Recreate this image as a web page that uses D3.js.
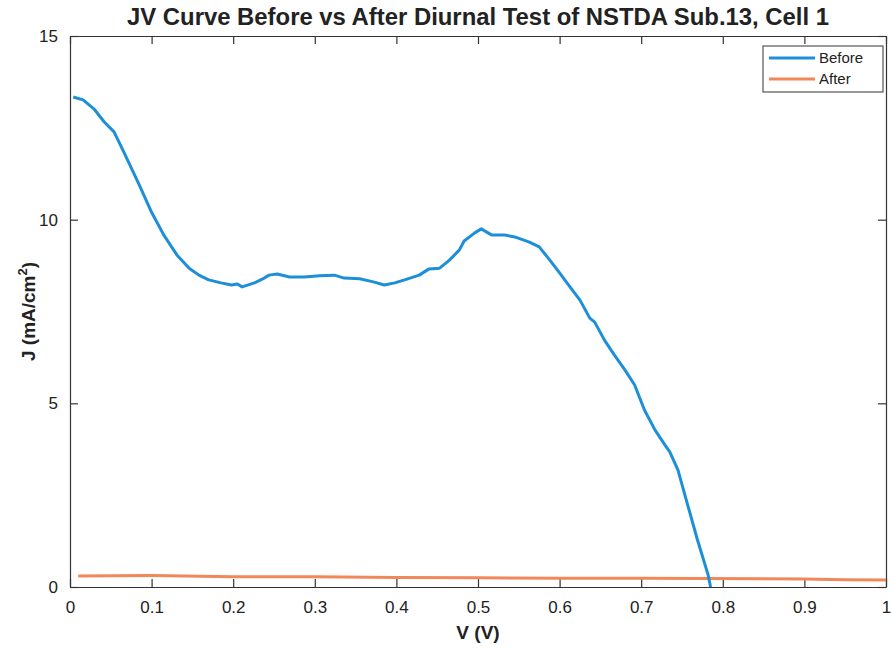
<!DOCTYPE html>
<html>
<head>
<meta charset="utf-8">
<script src="https://cdn.jsdelivr.net/npm/d3@7"></script>
<style>
  body { margin: 0; background: #fff; }
  svg text { font-family: "Liberation Sans", Arial, sans-serif; fill: #222; }
</style>
</head>
<body>
<div id="chart"></div>
<script>
const width = 892;
const height = 649;

// Before diurnal test (V in volts, J in mA/cm2)
const beforeV = [0.004, 0.016, 0.03, 0.042, 0.054, 0.066, 0.085, 0.1, 0.115, 0.131, 0.146, 0.158, 0.17,
  0.185, 0.198, 0.205, 0.211, 0.226, 0.238, 0.244, 0.254, 0.269, 0.287, 0.306, 0.324, 0.336, 0.355,
  0.373, 0.385, 0.398, 0.41, 0.428, 0.44, 0.453, 0.465, 0.477, 0.483, 0.496, 0.504, 0.517, 0.533,
  0.545, 0.563, 0.575, 0.588, 0.6, 0.612, 0.625, 0.637, 0.643, 0.655, 0.667, 0.68, 0.692, 0.704,
  0.717, 0.729, 0.735, 0.745, 0.757, 0.769, 0.782, 0.785];
const beforeJ = [13.34, 13.26, 13.0, 12.66, 12.39, 11.84, 10.94, 10.2, 9.58, 9.04, 8.68, 8.49, 8.36,
  8.28, 8.22, 8.25, 8.17, 8.28, 8.41, 8.49, 8.52, 8.44, 8.44, 8.47, 8.49, 8.41, 8.39,
  8.30, 8.22, 8.28, 8.36, 8.49, 8.66, 8.68, 8.90, 9.17, 9.42, 9.64, 9.75, 9.58, 9.58,
  9.53, 9.39, 9.26, 8.90, 8.55, 8.19, 7.81, 7.32, 7.21, 6.72, 6.32, 5.91, 5.50, 4.82,
  4.27, 3.87, 3.68, 3.19, 2.23, 1.28, 0.33, 0.0];

// After diurnal test
const afterV = [0.01, 0.1, 0.2, 0.3, 0.4, 0.5, 0.6, 0.7, 0.78, 0.9, 0.95, 1.0];
const afterJ = [0.30, 0.31, 0.28, 0.28, 0.26, 0.25, 0.24, 0.24, 0.23, 0.22, 0.20, 0.19];

const xTicks = [0, 0.1, 0.2, 0.3, 0.4, 0.5, 0.6, 0.7, 0.8, 0.9, 1];
const yTicks = [0, 5, 10, 15];

const seriesNames = ["Before", "After"];
const seriesColors = ["#1d8fd8", "#f2875a"];

const margin = {top: 36, right: 6, bottom: 62, left: 70};
const innerW = width - margin.left - margin.right;
const innerH = height - margin.top - margin.bottom;

const svg = d3.select("#chart").append("svg")
    .attr("width", width)
    .attr("height", height);

const g = svg.append("g")
    .attr("transform", `translate(${margin.left},${margin.top})`);

const x = d3.scaleLinear().domain([0, 1]).range([0, innerW]);
const y = d3.scaleLinear().domain([0, 15]).range([innerH, 0]);

// axes with inward ticks, MATLAB style box
const fmt = d => String(d);
const xAxis = g.append("g")
    .attr("transform", `translate(0,${innerH})`)
    .call(d3.axisBottom(x).tickValues(xTicks).tickFormat(fmt).tickSizeInner(-8).tickSizeOuter(0).tickPadding(14));
const xTop = g.append("g")
    .call(d3.axisTop(x).tickValues(xTicks).tickFormat("").tickSizeInner(-8).tickSizeOuter(0));
const yAxis = g.append("g")
    .call(d3.axisLeft(y).tickValues(yTicks).tickFormat(fmt).tickSizeInner(-8).tickSizeOuter(0).tickPadding(12));
const yRight = g.append("g")
    .attr("transform", `translate(${innerW},0)`)
    .call(d3.axisRight(y).tickValues(yTicks).tickFormat("").tickSizeInner(-8).tickSizeOuter(0));

[xAxis, xTop, yAxis, yRight].forEach(a => {
    a.select(".domain").attr("stroke", "#333").attr("stroke-width", 1.2);
    a.selectAll(".tick line").attr("stroke", "#333").attr("stroke-width", 1.2);
    a.selectAll("text").attr("font-size", 17).attr("fill", "#222");
});

// lines
const line = d3.line()
    .x(d => x(d[0]))
    .y(d => y(d[1]));

const afterData = afterV.map((v, i) => [v, afterJ[i]]);
const beforeData = beforeV.map((v, i) => [v, beforeJ[i]]);

g.append("path")
    .datum(afterData)
    .attr("fill", "none")
    .attr("stroke", seriesColors[1])
    .attr("stroke-width", 3)
    .attr("d", line);

g.append("path")
    .datum(beforeData)
    .attr("fill", "none")
    .attr("stroke", seriesColors[0])
    .attr("stroke-width", 3)
    .attr("stroke-linejoin", "round")
    .attr("d", line);

// title and axis labels
svg.append("text")
    .attr("x", 478)
    .attr("y", 25)
    .attr("text-anchor", "middle")
    .attr("font-size", 23)
    .attr("font-weight", "bold")
    .attr("textLength", 702)
    .attr("lengthAdjust", "spacingAndGlyphs")
    .text("JV Curve Before vs After Diurnal Test of NSTDA Sub.13, Cell 1");

svg.append("text")
    .attr("x", margin.left + innerW / 2)
    .attr("y", 639)
    .attr("text-anchor", "middle")
    .attr("font-size", 19)
    .attr("font-weight", "bold")
    .text("V (V)");

const yl = svg.append("text")
    .attr("transform", `translate(35,${margin.top + innerH / 2}) rotate(-90)`)
    .attr("text-anchor", "middle")
    .attr("font-size", 19)
    .attr("font-weight", "bold");
yl.append("tspan").text("J (mA/cm");
yl.append("tspan").attr("dy", -8).attr("font-size", 13).text("2");
yl.append("tspan").attr("dy", 8).text(")");

// legend
const lg = svg.append("g").attr("transform", "translate(763,46)");
lg.append("rect")
    .attr("width", 120)
    .attr("height", 46)
    .attr("fill", "#fff")
    .attr("stroke", "#333")
    .attr("stroke-width", 1);
seriesNames.forEach((name, i) => {
    const yy = 12 + i * 21;
    lg.append("line")
        .attr("x1", 6).attr("x2", 52)
        .attr("y1", yy).attr("y2", yy)
        .attr("stroke", seriesColors[i])
        .attr("stroke-width", 3);
    lg.append("text")
        .attr("x", 56)
        .attr("y", yy + 5)
        .attr("font-size", 15)
        .text(name);
});
</script>
</body>
</html>
